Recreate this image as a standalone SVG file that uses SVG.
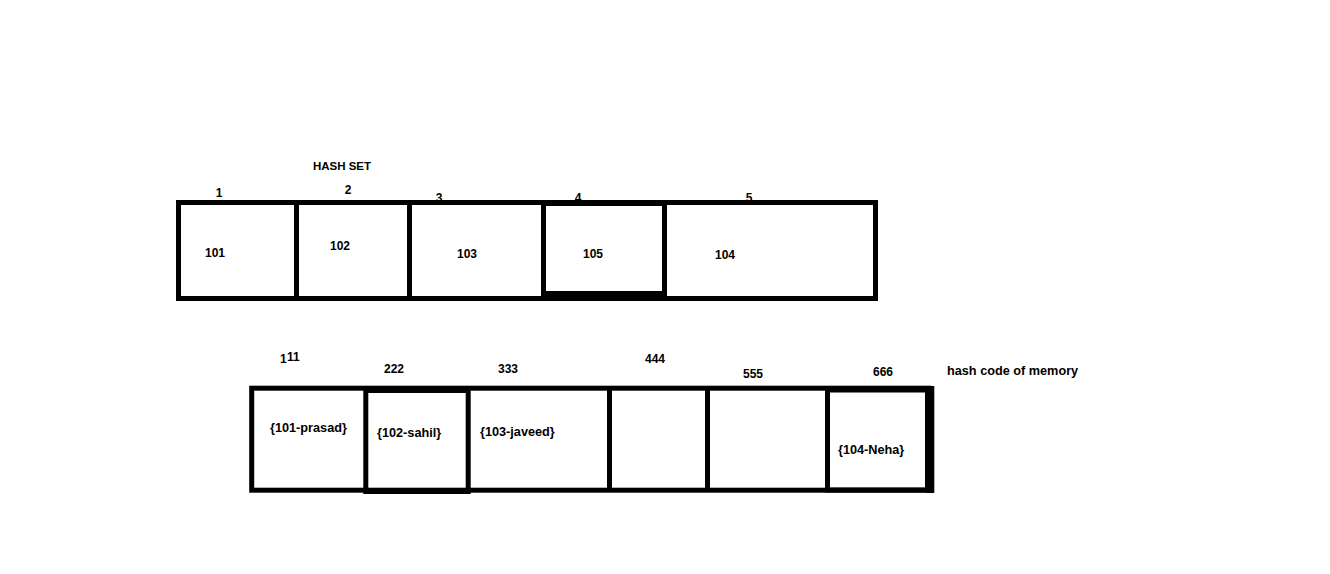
<svg xmlns="http://www.w3.org/2000/svg" width="1330" height="574" viewBox="0 0 1330 574">
<style>
.t{font-family:"Liberation Sans",Arial,sans-serif;font-weight:bold;font-size:12px;fill:#000}
.l{font-size:12.7px}
.m{text-anchor:middle}
.b{fill:none;stroke:#000;stroke-width:5}
.f{fill:#000}
</style>
<rect width="1330" height="574" fill="#fff"/>
<text class="t m" x="342" y="170" style="font-size:11.5px">HASH SET</text>
<g id="hashset">
  <g id="slot1"><text class="t m" x="219" y="197">1</text><text class="t m" x="215" y="257">101</text></g>
  <g id="slot2"><text class="t m" x="348" y="194">2</text><text class="t m" x="340" y="250">102</text></g>
  <g id="slot3"><text class="t m" x="439" y="202">3</text><text class="t m" x="467" y="258">103</text></g>
  <g id="slot4"><text class="t m" x="578" y="202">4</text><text class="t m" x="593" y="258">105</text></g>
  <g id="slot5"><text class="t m" x="749" y="202">5</text><text class="t m" x="725" y="259">104</text></g>
  <rect class="b" x="178.5" y="202.5" width="697" height="96"/>
  <line class="b" x1="296.5" y1="202" x2="296.5" y2="298"/>
  <line class="b" x1="409.5" y1="202" x2="409.5" y2="298"/>
  <rect class="b" x="543.5" y="203.5" width="121" height="92"/>
  <rect class="f" x="541" y="291" width="126" height="9"/>
</g>
<g id="memory">
  <g id="m1"><text class="t" x="280" y="363">1</text><text class="t" x="287" y="361">11</text><text class="t l" x="270" y="432">{101-prasad}</text></g>
  <g id="m2"><text class="t m" x="394" y="373">222</text><text class="t l" x="377" y="437">{102-sahil}</text></g>
  <g id="m3"><text class="t m" x="508" y="373">333</text><text class="t l" x="480" y="436">{103-javeed}</text></g>
  <g id="m4"><text class="t m" x="655" y="363">444</text></g>
  <g id="m5"><text class="t m" x="753" y="378">555</text></g>
  <g id="m6"><text class="t m" x="883" y="376">666</text><text class="t l" x="838" y="454">{104-Neha}</text></g>
  <text class="t l" x="947" y="375">hash code of memory</text>
  <rect class="b" x="251.7" y="388.2" width="677" height="102"/>
  <rect class="b" x="365.8" y="390.5" width="102.4" height="101"/>
  <line class="b" x1="609.5" y1="388" x2="609.5" y2="489"/>
  <line class="b" x1="707.5" y1="388" x2="707.5" y2="490"/>
  <rect class="b" x="827.5" y="390" width="100" height="100"/>
  <rect class="f" x="926" y="386" width="8.3" height="107"/>
</g>
</svg>
